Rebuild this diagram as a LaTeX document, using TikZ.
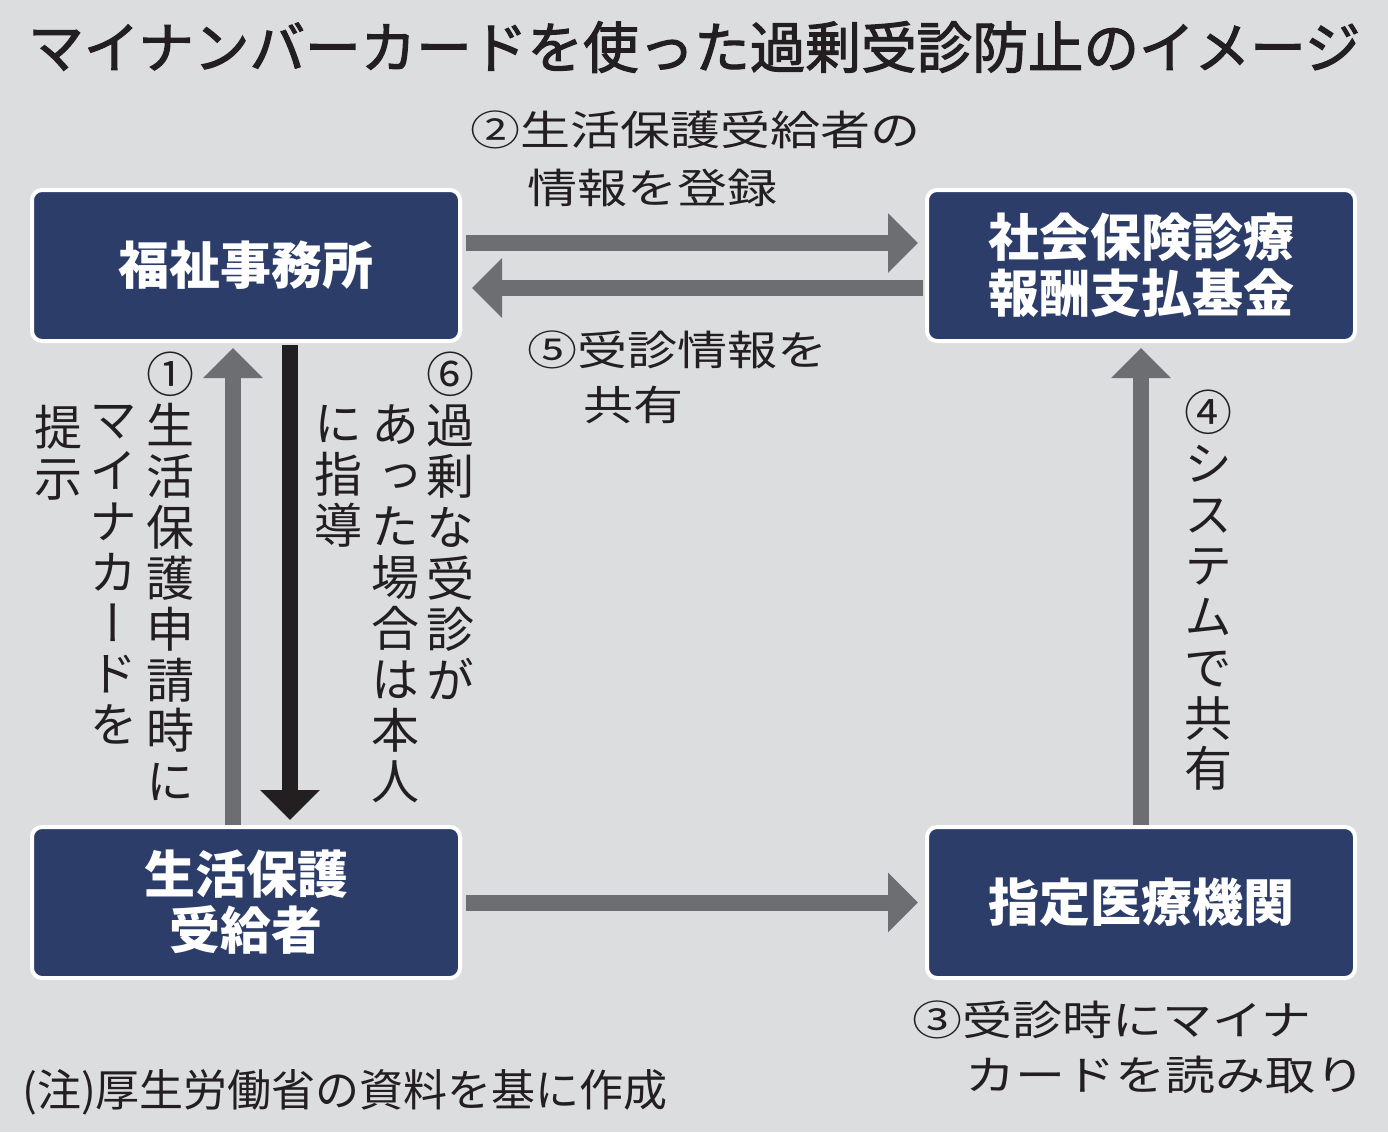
\documentclass[tikz,border=0pt]{standalone}
\usepackage{fontspec}
\setmainfont{Noto Sans CJK JP}
\newfontfamily\jpflat[FakeStretch=1.22]{Noto Sans CJK JP}
\newfontfamily\jptitle[FakeBold=2]{Noto Sans CJK JP}
\newfontfamily\jptate[RawFeature=+vert]{Noto Sans CJK JP}
\usetikzlibrary{arrows.meta,calc}

\definecolor{bgGray}{HTML}{DCDDDF}
\definecolor{boxNavy}{HTML}{2C3D6A}
\definecolor{arrowGray}{HTML}{6D6E72}
\definecolor{inkBlack}{HTML}{231F20}

% one character per line, for the upright columns
\ExplSyntaxOn
\NewDocumentCommand\tatetext{m}
  {
    \vbox
      {
        \baselineskip=1.06em \lineskiplimit=-\maxdimen
        \tl_map_inline:nn {#1} { \hbox_to_wd:nn {1em} { \hss ##1 \hss } }
      }
  }
\ExplSyntaxOff

\tikzset{
  orgbox/.style={draw=white, line width=4pt, fill=boxNavy, rounded corners=10pt,
    minimum width=428pt, minimum height=151pt, inner sep=0pt,
    text=white, align=center, font=\bfseries\fontsize{51}{56}\selectfont},
  garrow/.style={draw=arrowGray, line width=16pt, -{Triangle[length=30pt,width=58pt]}},
  karrow/.style={garrow, draw=inkBlack},
  lbl/.style={text=inkBlack, anchor=west, inner sep=0pt, font=\jpflat\fontsize{41}{41}\selectfont},
  tate/.style={text=inkBlack, anchor=north, inner sep=0pt, font=\jptate\fontsize{48}{50}\selectfont},
}

\begin{document}
\begin{tikzpicture}[x=1pt, y=-1pt]
    \fill[bgGray] (0,0) rectangle (1388,1132);
    \useasboundingbox (0,0) rectangle (1388,1132);

    \node[text=inkBlack, anchor=west, inner sep=0pt, font=\jptitle\fontsize{55.6}{56}\selectfont] (title) at (28,47) {マイナンバーカードを使った過剰受診防止のイメージ};

    % the four offices
    \node[orgbox] (fukushi) at (246,265.5) {福祉事務所};
    \node[orgbox] (kikin) at (1141,265.5) {社会保険診療\\報酬支払基金};
    \node[orgbox] (jukyu) at (246,902.5) {生活保護\\受給者};
    \node[orgbox] (iryo) at (1141,902.5) {指定医療機関};

    % flows
    \draw[garrow] ($(fukushi.east)+(4,-22.5)$) -- ($(kikin.west)+(-7,-22.5)$);
    \draw[garrow] ($(kikin.west)+(-2,22.5)$) -- ($(fukushi.east)+(10,22.5)$);
    \draw[garrow] ($(jukyu.north)+(-13,0)$) -- ($(fukushi.south)+(-13,5)$);
    \draw[karrow] ($(fukushi.south)+(44,2)$) -- ($(jukyu.north)+(44,-5)$);
    \draw[garrow] ($(jukyu.east)+(4,0)$) -- ($(iryo.west)+(-7,0)$);
    \draw[garrow] (iryo.north) -- ($(kikin.south)+(0,5)$);

    % labels
    \node[lbl] (lbl2a) at (470,130) {②生活保護受給者の};
    \node[lbl] (lbl2b) at (527,188) {情報を登録};
    \node[lbl] (lbl5a) at (527,350) {⑤受診情報を};
    \node[lbl] (lbl5b) at (583,405) {共有};
    \node[lbl] (lbl3a) at (912,1020) {③受診時にマイナ};
    \node[lbl] (lbl3b) at (965,1075) {カードを読み取り};

    \node[tate] (tate1a) at (170,352) {\tatetext{①生活保護申請時に}};
    \node[tate] (tate1b) at (113,405) {\tatetext{マイナカードを}};
    \node[tate] (tate1c) at (58,405) {\tatetext{提示}};
    \node[tate] (tate6a) at (450,352) {\tatetext{⑥過剰な受診が}};
    \node[tate] (tate6b) at (395,405) {\tatetext{あった場合は本人}};
    \node[tate] (tate6c) at (338,405) {\tatetext{に指導}};
    \node[tate] (tate4) at (1208,390) {\tatetext{④システムで共有}};

    \node[text=inkBlack, anchor=west, inner sep=0pt, font=\fontsize{44}{44}\selectfont] (note) at (22,1092) {(注)厚生労働省の資料を基に作成};
\end{tikzpicture}
\end{document}
